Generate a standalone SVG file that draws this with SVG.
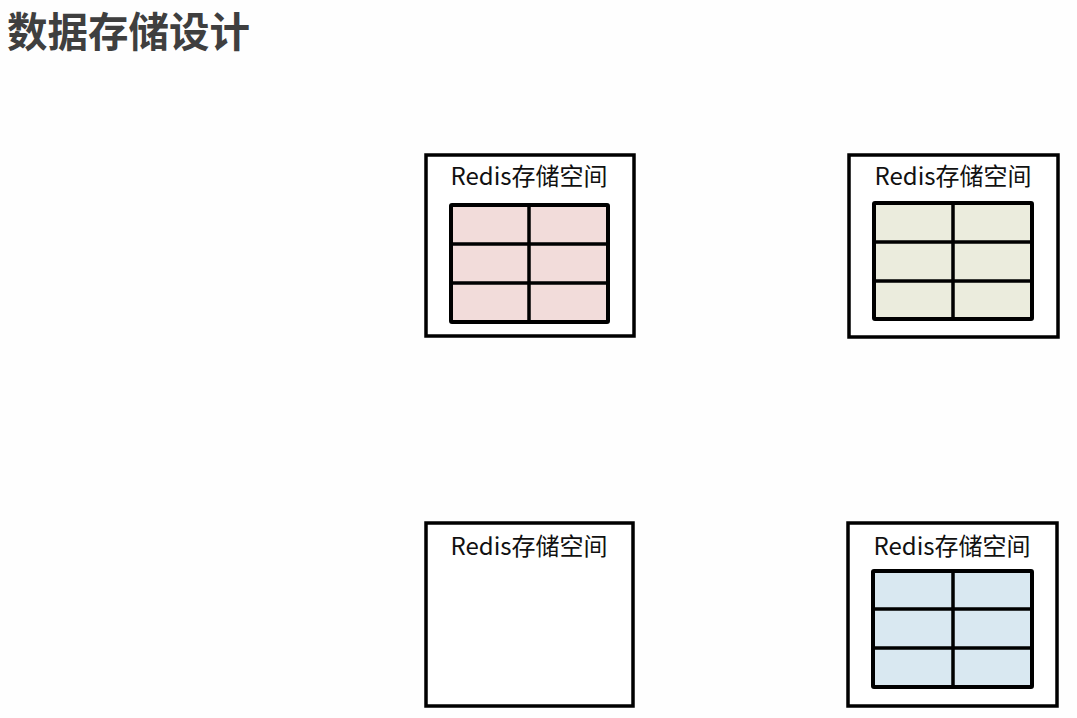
<svg xmlns="http://www.w3.org/2000/svg" width="1077" height="718" viewBox="0 0 1077 718">
<style>
.box{fill:#ffffff;stroke:#000;stroke-width:3.5}
.grid{stroke:#000;stroke-width:4}
.gl{stroke:#000;stroke-width:3.5;fill:none}
.lbl{font-family:"Noto Sans CJK SC","Noto Sans",sans-serif;font-size:24px;fill:#111;text-anchor:middle}
.title{font-family:"Noto Sans CJK SC","Noto Sans",sans-serif;font-size:40.5px;font-weight:bold;fill:#3f3f3f}
</style>
<rect width="1077" height="718" fill="#fefefe"/>
<text class="title" x="7" y="47">数据存储设计</text>
<g id="redis1">
<rect class="box" x="426" y="155" width="208" height="181"/>
<text class="lbl" x="529" y="185">Redis存储空间</text>
<rect class="grid" x="451" y="205" width="157" height="117" fill="#f2dcda" rx="1"/>
<path class="gl" d="M529,205V322M451,244H608M451,283H608"/>
</g>
<g id="redis2">
<rect class="box" x="849" y="155" width="209" height="182"/>
<text class="lbl" x="953" y="185">Redis存储空间</text>
<rect class="grid" x="874" y="203" width="158" height="116" fill="#ebecdd" rx="1"/>
<path class="gl" d="M953,203V319M874,242H1032M874,281H1032"/>
</g>
<g id="redis3">
<rect class="box" x="426" y="523" width="207" height="183"/>
<text class="lbl" x="529" y="555">Redis存储空间</text>
</g>
<g id="redis4">
<rect class="box" x="848" y="523" width="209" height="183"/>
<text class="lbl" x="952" y="555">Redis存储空间</text>
<rect class="grid" x="873" y="571" width="159" height="116" fill="#d9e8f1" rx="1"/>
<path class="gl" d="M953,571V687M873,609H1032M873,648H1032"/>
</g>
<g id="connectors"></g>
</svg>
